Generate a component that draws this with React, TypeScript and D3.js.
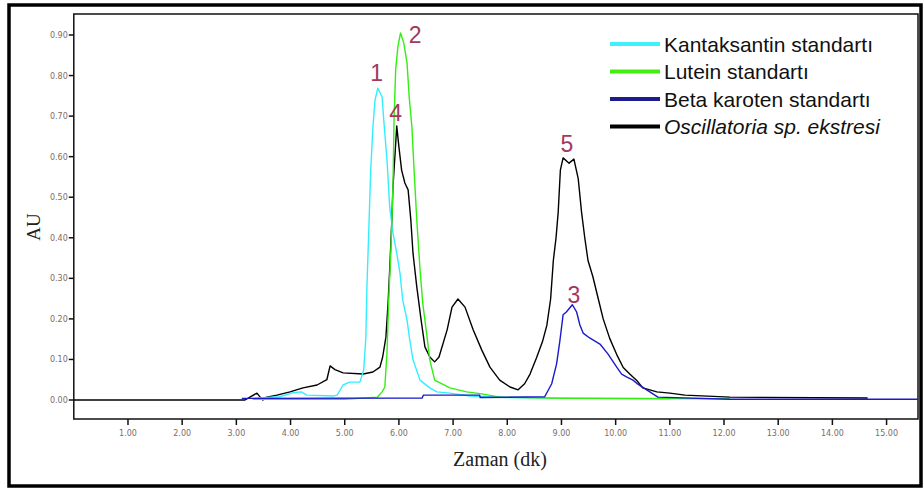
import React, { useEffect, useRef } from 'react';
import * as d3 from 'd3';

// retention time (min), absorbance (AU)
const kantaksantin: [number, number][] = [
  [3.3, 0.004], [3.8, 0.008], [4.05, 0.018], [4.2, 0.02], [4.3, 0.012], [4.8, 0.01], [4.86, 0.012],
  [4.97, 0.037], [5.09, 0.044], [5.28, 0.044], [5.35, 0.074], [5.39, 0.155], [5.41, 0.279], [5.45, 0.444],
  [5.48, 0.567], [5.52, 0.673], [5.56, 0.74], [5.61, 0.769], [5.69, 0.747], [5.72, 0.69], [5.78, 0.592],
  [5.83, 0.476], [5.89, 0.412], [5.96, 0.362], [6.02, 0.313], [6.07, 0.247], [6.15, 0.197], [6.2, 0.148],
  [6.26, 0.099], [6.39, 0.049], [6.57, 0.03], [6.7, 0.02], [6.94, 0.017], [7.31, 0.01], [8.0, 0.006],
  [9.0, 0.005], [11.0, 0.003],
];

const lutein: [number, number][] = [
  [3.3, 0.002], [5.0, 0.002], [5.6, 0.007], [5.69, 0.02], [5.74, 0.032], [5.78, 0.116], [5.81, 0.239],
  [5.85, 0.362], [5.87, 0.444], [5.89, 0.525], [5.91, 0.69], [5.94, 0.814], [5.98, 0.87], [6.03, 0.905],
  [6.09, 0.88], [6.15, 0.831], [6.19, 0.747], [6.24, 0.673], [6.28, 0.567], [6.33, 0.444], [6.39, 0.321],
  [6.44, 0.239], [6.52, 0.155], [6.57, 0.099], [6.66, 0.049], [6.76, 0.042], [6.94, 0.03], [7.25, 0.02],
  [7.53, 0.015], [7.86, 0.007], [9.0, 0.004], [12.1, 0.003],
];

const betaKaroten: [number, number][] = [
  [3.1, 0.004], [6.43, 0.005], [6.45, 0.012], [7.49, 0.012], [7.5, 0.006], [8.69, 0.008], [8.82, 0.04],
  [8.91, 0.089], [8.97, 0.145], [9.03, 0.21], [9.09, 0.217], [9.2, 0.235], [9.28, 0.217], [9.34, 0.185],
  [9.4, 0.165], [9.52, 0.153], [9.71, 0.138], [9.86, 0.113], [10.02, 0.081], [10.11, 0.064],
  [10.2, 0.057], [10.32, 0.049], [10.41, 0.039], [10.63, 0.02], [10.78, 0.007], [12.1, 0.002],
  [15.58, 0.002],
];

const oscillatoria: [number, number][] = [
  [0, 0], [3.16, 0], [3.25, 0.007], [3.38, 0.017], [3.44, 0.007], [3.49, 0], [3.56, 0.007], [3.75, 0.012],
  [3.99, 0.02], [4.23, 0.03], [4.49, 0.037], [4.67, 0.05], [4.73, 0.084], [4.82, 0.075], [4.97, 0.067],
  [5.34, 0.064], [5.52, 0.069], [5.65, 0.081], [5.7, 0.106], [5.76, 0.155], [5.8, 0.239], [5.83, 0.321],
  [5.87, 0.444], [5.89, 0.525], [5.93, 0.609], [5.96, 0.676], [6.0, 0.624], [6.05, 0.567], [6.11, 0.535],
  [6.17, 0.518], [6.22, 0.444], [6.26, 0.362], [6.33, 0.279], [6.41, 0.197], [6.48, 0.131], [6.57, 0.106],
  [6.66, 0.094], [6.74, 0.106], [6.89, 0.173], [6.98, 0.229], [7.09, 0.249], [7.22, 0.229], [7.37, 0.173],
  [7.53, 0.123], [7.68, 0.081], [7.86, 0.049], [8.05, 0.032], [8.2, 0.025], [8.32, 0.04], [8.42, 0.064],
  [8.54, 0.104], [8.65, 0.144], [8.73, 0.184], [8.8, 0.249], [8.85, 0.344], [8.9, 0.4], [8.94, 0.464],
  [8.98, 0.567], [9.03, 0.597], [9.14, 0.584], [9.23, 0.594], [9.31, 0.545], [9.37, 0.464], [9.43, 0.4],
  [9.49, 0.344], [9.58, 0.304], [9.68, 0.249], [9.77, 0.2], [9.89, 0.152], [10.02, 0.112], [10.14, 0.08],
  [10.26, 0.064], [10.39, 0.048], [10.5, 0.03], [10.76, 0.02], [11.0, 0.017], [11.28, 0.012],
  [12.11, 0.007], [14.65, 0.005],
];

const seriesNames = ['Kantaksantin standartı', 'Lutein standartı', 'Beta karoten standartı', 'Oscillatoria sp. ekstresi'];
const seriesColors = ['#33eeff', '#33ee11', '#1a1acc', '#000000'];
const legendColors = ['#3ff0ff', '#44ee11', '#1c1c8c', '#000000'];

const peakLabels = ['1', '2', '3', '4', '5'];
const peakTimes = [5.59, 6.3, 9.23, 5.94, 9.1];
const peakValues = [0.787, 0.88, 0.239, 0.688, 0.611];

const xTicks = [1, 2, 3, 4, 5, 6, 7, 8, 9, 10, 11, 12, 13, 14, 15];
const yTicks = [0, 0.1, 0.2, 0.3, 0.4, 0.5, 0.6, 0.7, 0.8, 0.9];

function App() {
  const svgRef = useRef<SVGSVGElement>(null);

  useEffect(() => {
    const svg = d3.select(svgRef.current);
    svg.selectAll('*').remove();

    const left = 73.8, right = 918, top = 14, bottom = 419;
    const x = d3.scaleLinear().domain([0, 15.58]).range([left, right]);
    const y = d3.scaleLinear().domain([0, 0.9]).range([400, 35]);

    // outer frame
    svg.append('rect')
      .attr('x', 9).attr('y', 5).attr('width', 912).attr('height', 481)
      .attr('fill', 'none').attr('stroke', '#000').attr('stroke-width', 3.5);

    // plot frame
    svg.append('rect')
      .attr('x', left).attr('y', top).attr('width', right - left).attr('height', bottom - top)
      .attr('fill', 'none').attr('stroke', '#111').attr('stroke-width', 1.5);

    const tickColor = '#7d6c66';
    const xAxis = svg.append('g').attr('transform', `translate(0,${bottom})`);
    xAxis.selectAll('line').data(xTicks).join('line')
      .attr('x1', d => x(d)).attr('x2', d => x(d)).attr('y1', 0).attr('y2', 6)
      .attr('stroke', '#111').attr('stroke-width', 1.5);
    xAxis.selectAll('text').data(xTicks).join('text')
      .attr('x', d => x(d)).attr('y', 17)
      .attr('text-anchor', 'middle').attr('font-size', 8).attr('font-family', 'DejaVu Sans')
      .attr('fill', tickColor).text(d => d3.format('.2f')(d));

    const yAxis = svg.append('g').attr('transform', `translate(${left},0)`);
    yAxis.selectAll('line').data(yTicks).join('line')
      .attr('x1', 0).attr('x2', -5).attr('y1', d => y(d)).attr('y2', d => y(d))
      .attr('stroke', '#111').attr('stroke-width', 1.5);
    yAxis.selectAll('text').data(yTicks).join('text')
      .attr('x', -6).attr('y', d => y(d) + 3)
      .attr('text-anchor', 'end').attr('font-size', 8).attr('font-family', 'DejaVu Sans')
      .attr('fill', tickColor).text(d => d3.format('.2f')(d));

    // axis titles
    svg.append('text')
      .attr('transform', 'translate(40,227) rotate(-90)')
      .attr('text-anchor', 'middle').attr('font-family', 'Liberation Serif').attr('font-size', 19)
      .attr('fill', '#222').text('AU');
    svg.append('text')
      .attr('x', 500).attr('y', 466)
      .attr('text-anchor', 'middle').attr('font-family', 'Liberation Serif').attr('font-size', 20)
      .attr('fill', '#222').text('Zaman (dk)');

    const line = d3.line<[number, number]>().x(d => x(d[0])).y(d => y(d[1]));
    const all = [oscillatoria, kantaksantin, lutein, betaKaroten];
    const cols = [seriesColors[3], seriesColors[0], seriesColors[1], seriesColors[2]];
    all.forEach((s, i) => {
      svg.append('path').datum(s)
        .attr('d', line).attr('fill', 'none')
        .attr('stroke', cols[i]).attr('stroke-width', 1.4).attr('stroke-linejoin', 'round');
    });

    // peak numbers
    svg.selectAll('.peak').data(peakLabels).join('text')
      .attr('class', 'peak')
      .attr('x', (_, i) => x(peakTimes[i])).attr('y', (_, i) => y(peakValues[i]))
      .attr('text-anchor', 'middle').attr('font-family', 'Liberation Sans').attr('font-size', 23)
      .attr('fill', '#a3385c').text(d => d);

    // legend
    const leg = svg.append('g').attr('transform', 'translate(610,44)');
    seriesNames.forEach((name, i) => {
      leg.append('line')
        .attr('x1', 0).attr('x2', 50).attr('y1', i * 27.5).attr('y2', i * 27.5)
        .attr('stroke', legendColors[i]).attr('stroke-width', 4);
      leg.append('text')
        .attr('x', 54).attr('y', i * 27.5 + 7.5)
        .attr('font-family', 'Liberation Sans').attr('font-size', 21)
        .attr('font-style', i === 3 ? 'italic' : 'normal')
        .attr('fill', '#111').text(name);
    });
  }, []);

  return (
    <div>
      <svg ref={svgRef} width={924} height={490}
        style={{ position: 'absolute', left: 0, top: 0, background: '#fff' }} />
    </div>
  );
}

export default App;
